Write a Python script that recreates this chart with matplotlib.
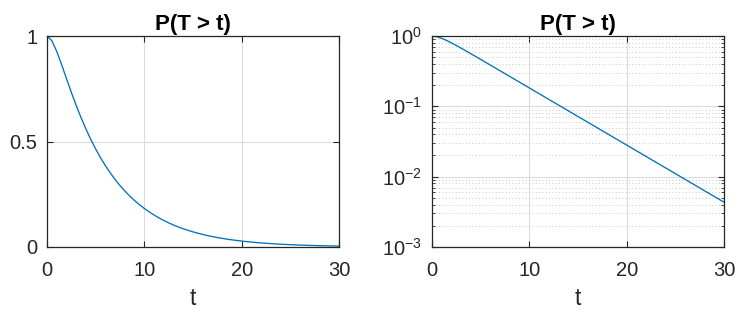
import matplotlib
matplotlib.use("Agg")
import matplotlib.pyplot as plt
from matplotlib.ticker import LogLocator, NullFormatter

plt.rcParams['font.family'] = ['Liberation Sans', 'DejaVu Sans']
plt.rcParams['mathtext.fontset'] = 'custom'
plt.rcParams['mathtext.rm'] = 'Liberation Sans'
plt.rcParams['mathtext.it'] = 'Liberation Sans:italic'
plt.rcParams['mathtext.bf'] = 'Liberation Sans:bold'

# Data (t step 0.5)
t = [i * 0.5 for i in range(61)]
surv = [1.0000, 0.97755, 0.92696, 0.86434, 0.79823, 0.73305, 0.67094, 0.61287,
        0.55917, 0.50981, 0.46460, 0.42329, 0.38560, 0.35123, 0.31991, 0.29137,
        0.26537, 0.24169, 0.22012, 0.20047, 0.18257, 0.16628, 0.15144, 0.13792,
        0.12561, 0.11440, 0.10419, 0.09489, 0.08642, 0.07870, 0.07168, 0.06528,
        0.05945, 0.05415, 0.04931, 0.04491, 0.04090, 0.03725, 0.03393, 0.03090,
        0.02814, 0.02563, 0.02334, 0.02126, 0.01936, 0.01763, 0.01606, 0.01462,
        0.01332, 0.01213, 0.01105, 0.01006, 0.00916, 0.00835, 0.00760, 0.00692,
        0.00630, 0.00574, 0.00523, 0.00476, 0.00434]

title_text = 'P(T > t)'
xlabel_text = 't'
xticks = [0, 10, 20, 30]
lin_yticks = [0, 0.5, 1]
lin_yticklabels = ['0', '0.5', '1']

line_color = '#0072BD'
axis_color = '#262626'
grid_color = '#dcdcdc'

fig = plt.figure(figsize=(7.46, 3.2), dpi=100)
ax1 = fig.add_axes([47/746, 73/320, 292/746, 211/320])
ax2 = fig.add_axes([432/746, 73/320, 292/746, 211/320])

for ax in (ax1, ax2):
    ax.plot(t, surv, color=line_color, lw=0.95)
    ax.set_xlim(0, 30)
    ax.set_xticks(xticks)
    ax.set_title(title_text, fontsize=16, fontweight='bold', color='black', pad=4)
    ax.set_xlabel(xlabel_text, fontsize=16.5, color=axis_color, labelpad=5)
    ax.tick_params(direction='in', which='both', top=True, right=True,
                   labelsize=14.5, colors=axis_color, length=4, width=0.8)
    ax.tick_params(axis='x', pad=10)
    ax.tick_params(axis='y', pad=7)
    for s in ax.spines.values():
        s.set_color(axis_color)
        s.set_linewidth(0.9)
    ax.grid(True, which='major', color=grid_color, lw=0.8, ls='-')
    ax.set_axisbelow(True)

ax1.set_ylim(0, 1)
ax1.set_yticks(lin_yticks)
ax1.set_yticklabels(lin_yticklabels)

ax2.set_yscale('log')
ax2.set_ylim(1e-3, 1)
ax2.yaxis.set_major_locator(LogLocator(base=10, numticks=10))
ax2.yaxis.set_minor_locator(LogLocator(base=10, subs=range(2, 10), numticks=20))
ax2.yaxis.set_minor_formatter(NullFormatter())
ax2.tick_params(which='minor', length=2, width=0.6)
ax2.grid(True, which='minor', axis='y', color='#b8b8b8', lw=0.6, ls=(0, (1, 3)))

fig.savefig('out.png', dpi=100)
